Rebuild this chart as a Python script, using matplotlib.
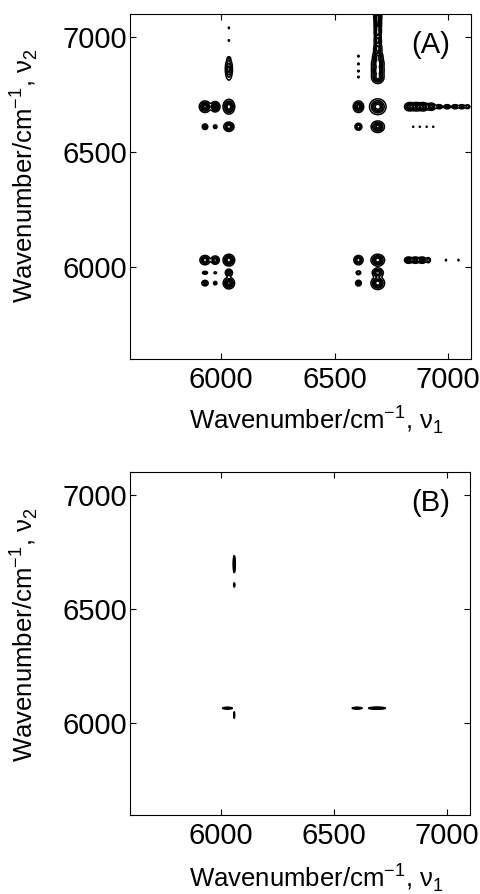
import numpy as np
import matplotlib
matplotlib.use("Agg")
import matplotlib.pyplot as plt

plt.rcParams["font.family"] = ["Liberation Sans", "DejaVu Sans"]

# wavenumber window shared by both maps (cm-1)
wn_min, wn_max = 5600, 7100
tick_values = [6000, 6500, 7000]

# panel A: cross peaks (nu1 centre, nu2 centre, nu1 width, nu2 width, height)
a_x = [5930, 5975, 6035, 5930, 5975, 6035, 5930, 5975, 6035,
       5930, 5975, 6035, 5930, 5975, 6035,
       6035, 6035, 6035, 6035,
       6605, 6690, 6605, 6690, 6605, 6690, 6605, 6690, 6605, 6690,
       6605, 6605, 6605, 6605,
       6690, 6690, 6690, 6690, 6690, 6690, 6690, 6690, 6690, 6690,
       6830, 6860, 6890, 6925, 6960, 6995, 7030, 7060, 7085,
       6825, 6855, 6885, 6912, 6990, 7045,
       6846, 6875, 6905, 6934]
a_y = [6030, 6030, 6030, 5975, 5975, 5975, 5930, 5930, 5930,
       6697, 6697, 6697, 6610, 6610, 6610,
       6860, 6905, 6985, 7040,
       6697, 6697, 6610, 6610, 6030, 6030, 5975, 5975, 5930, 5930,
       6826, 6852, 6883, 6917,
       6825, 6855, 6885, 6915, 6950, 6985, 7020, 7050, 7075, 7095,
       6697, 6697, 6697, 6697, 6697, 6697, 6697, 6697, 6697,
       6030, 6030, 6030, 6030, 6030, 6030,
       6610, 6610, 6610, 6610]
a_wx = [11, 9, 12, 7, 4, 8, 8, 5, 12,
        12, 10, 12, 7, 5, 11,
        8, 4, 2, 2,
        11, 17, 8, 14, 10, 14, 6, 12, 7, 14,
        3, 3, 3, 3,
        13, 13, 13, 11, 9, 8, 8, 8, 8, 9,
        11, 11, 11, 10, 8, 8, 8, 8, 6,
        9, 9, 9, 6, 2, 2,
        2, 2, 2, 2]
a_wy = [10, 9, 12, 4, 3, 8, 7, 5, 12,
        12, 11, 15, 7, 5, 10,
        24, 5, 3, 3,
        12, 16, 8, 12, 10, 12, 5, 10, 7, 13,
        3, 3, 3, 3,
        13, 13, 13, 13, 13, 13, 13, 13, 13, 11,
        9, 9, 9, 8, 5, 5, 5, 5, 5,
        7, 7, 7, 7, 3, 3,
        2, 2, 2, 2]
a_h = [0.8, 0.75, 1.0, 0.35, 0.25, 0.7, 0.45, 0.3, 0.9,
       0.9, 0.85, 1.0, 0.45, 0.35, 0.8,
       0.7, 0.3, 0.2, 0.2,
       0.9, 1.0, 0.6, 0.9, 0.8, 1.0, 0.4, 0.8, 0.5, 1.0,
       0.2, 0.2, 0.2, 0.2,
       0.9, 0.9, 0.9, 0.8, 0.7, 0.7, 0.7, 0.7, 0.7, 0.6,
       0.8, 0.8, 0.8, 0.7, 0.5, 0.5, 0.5, 0.5, 0.4,
       0.7, 0.7, 0.7, 0.35, 0.2, 0.2,
       0.2, 0.2, 0.2, 0.2]

# panel B: narrow residual features
b_x = [6060, 6060, 6030, 6060, 6602, 6690]
b_y = [6697, 6606, 6067, 6037, 6067, 6067]
b_wx = [3, 2, 14, 1.5, 14, 24]
b_wy = [24, 7, 2.5, 12, 2.5, 3]
b_h = [1.0, 0.7, 1.0, 0.6, 1.0, 1.0]

tick_fs = 21
label_fs = 18.5
axis_label = r"Wavenumber/cm$^{\mathregular{-1}}$, ν$_{\mathregular{%d}}$"


def peak_map(xs, ys, wxs, wys, hs, grid):
    z = np.zeros((grid.size, grid.size))
    for x0, y0, wx, wy, h in zip(xs, ys, wxs, wys, hs):
        gx = np.exp(-0.5 * ((grid - x0) / wx) ** 2)
        gy = np.exp(-0.5 * ((grid - y0) / wy) ** 2)
        z += h * np.outer(gy, gx)
    return z


def style_axes(ax, tag):
    ax.set_xlim(wn_min, wn_max)
    ax.set_ylim(wn_min, wn_max)
    ax.set_xticks(tick_values)
    ax.set_yticks(tick_values)
    ax.tick_params(direction="in", top=True, right=True, length=4,
                   width=0.8, labelsize=tick_fs)
    ax.tick_params(axis="x", pad=5)
    ax.tick_params(axis="y", pad=2)
    for sp in ax.spines.values():
        sp.set_linewidth(0.8)
    ax.set_xlabel(axis_label % 1, fontsize=label_fs)
    ax.set_ylabel(axis_label % 2, fontsize=label_fs)
    ax.text(0.883, 0.91, tag, transform=ax.transAxes, fontsize=tick_fs,
            ha="center", va="center")


grid = np.arange(wn_min, wn_max + 1, 1.0)

fig = plt.figure(figsize=(4.8, 8.94), dpi=100)
ax_a = fig.add_axes([0.2708, 0.5984, 0.7104, 0.3859])
ax_b = fig.add_axes([0.2708, 0.0884, 0.7083, 0.3837])

za = peak_map(a_x, a_y, a_wx, a_wy, a_h, grid)
ax_a.contour(grid, grid, za, levels=[0.1, 0.25, 0.42, 0.6, 0.8],
             colors="black", linewidths=1.1)
style_axes(ax_a, "(A)")
ax_a.xaxis.set_label_coords(0.547, -0.13)
ax_a.yaxis.set_label_coords(-0.265, 0.532)

zb = peak_map(b_x, b_y, b_wx, b_wy, b_h, grid)
ax_b.contour(grid, grid, zb, levels=[0.3, 0.6, 0.85],
             colors="black", linewidths=1.1)
style_axes(ax_b, "(B)")
ax_b.xaxis.set_label_coords(0.547, -0.135)
ax_b.yaxis.set_label_coords(-0.265, 0.526)

fig.savefig("out.png", dpi=100)
